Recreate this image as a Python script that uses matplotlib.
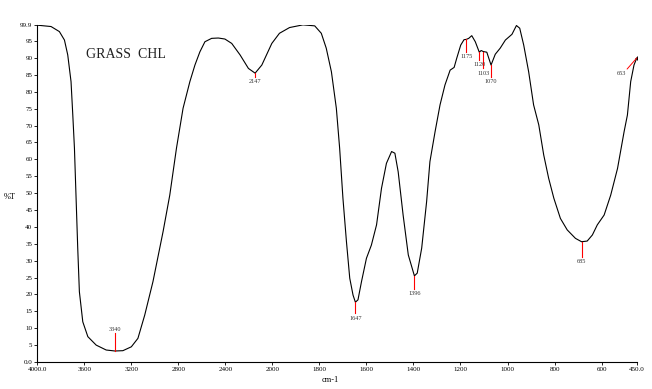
import numpy as np
import matplotlib
matplotlib.use("Agg")
import matplotlib.pyplot as plt

plt.rcParams['font.family'] = ['Liberation Serif', 'DejaVu Serif']

# spectrum: wavenumber (cm-1) and %T
wavenumber = [
    4000, 3883, 3812, 3769, 3741, 3713, 3698, 3684, 3670, 3656, 3642, 3613, 3570, 3499,
    3414, 3340, 3272, 3200, 3144, 3086, 3016, 2930, 2873, 2816, 2760, 2702, 2659, 2617,
    2574, 2517, 2460, 2404, 2346, 2275, 2204, 2147, 2090, 2005, 1970, 1927, 1870, 1820,
    1792, 1771, 1749, 1728, 1714, 1700, 1685, 1671, 1657, 1647, 1636, 1621, 1600, 1579,
    1557, 1536, 1515, 1493, 1479, 1465, 1444, 1422, 1396, 1384, 1365, 1344, 1330, 1308,
    1287, 1266, 1244, 1227, 1216, 1199, 1185, 1175, 1165, 1152, 1137, 1120, 1112, 1103,
    1088, 1070, 1052, 1031, 1009, 981, 962, 948, 931, 910, 889, 867, 846, 825, 803, 775,
    746, 711, 685, 661, 639, 618, 589, 561, 532, 504, 490, 476, 462, 450,
]
transmittance = [
    99.7, 99.3, 97.8, 95.3, 90.9, 83.0, 73.1, 63.3, 48.5, 33.7, 20.8, 11.9, 7.5, 5.0,
    3.55, 3.26, 3.35, 4.5, 7.0, 13.9, 23.8, 38.6, 49.4, 63.3, 75.1, 83.0, 87.9, 91.8,
    94.8, 95.8, 95.9, 95.6, 94.3, 90.9, 86.9, 85.5, 87.9, 94.3, 97.3, 99.0, 99.8, 99.5,
    97.3, 92.9, 85.9, 75.1, 63.3, 48.5, 35.6, 24.8, 19.8, 17.7, 18.4, 23.8, 30.7, 34.6,
    40.6, 51.4, 58.8, 62.3, 61.8, 56.3, 43.5, 31.7, 25.5, 26.3, 33.7, 47.5, 59.3, 68.2,
    76.1, 82.0, 86.4, 87.2, 89.9, 93.8, 95.4, 95.5, 95.8, 96.6, 94.8, 91.7, 92.2, 91.9,
    91.7, 87.9, 91.1, 92.9, 95.3, 97.0, 99.6, 98.8, 93.8, 85.9, 76.1, 70.2, 61.3, 54.4,
    48.5, 42.5, 39.1, 36.6, 35.6, 35.8, 37.6, 40.6, 43.5, 49.4, 57.3, 68.2, 73.1, 83.0,
    87.9, 90.0,
]

# picked peaks
peak_wn = [3340, 2147, 1647, 1396, 1175, 1120, 1103, 1070, 685]
peak_label = ['3340', '2147', '1647', '1396', '1175', '1120', '1103', '1070', '685']
peak_line_len = [-5.3, 1.1, 3.3, 3.9, 3.6, 2.3, 5.0, 3.4, 4.4]
end_label = '653'

x_ticks = [4000, 3600, 3200, 2800, 2400, 2000, 1800, 1600, 1400, 1200, 1000, 800, 600, 450]
x_tick_labels = ['4000.0', '3600', '3200', '2800', '2400', '2000', '1800', '1600', '1400',
                 '1200', '1000', '800', '600', '450.0']
y_ticks = [0, 5, 10, 15, 20, 25, 30, 35, 40, 45, 50, 55, 60, 65, 70, 75, 80, 85, 90, 95, 99.9]
y_tick_labels = ['0.0'] + [str(v) for v in y_ticks[1:-1]] + ['99.9']


def forward(w):
    # x axis is expanded 2x below 2000 cm-1
    w = np.asarray(w, dtype=float)
    return np.where(w >= 2000, w / 400.0 - 10.0, w / 200.0 - 15.0)


def inverse(t):
    t = np.asarray(t, dtype=float)
    return np.where(t >= -5.0, 400.0 * (t + 10.0), 200.0 * (t + 15.0))


fig = plt.figure(figsize=(6.52, 3.89), dpi=100)
ax = fig.add_axes([0.0572, 0.0694, 0.9195, 0.8676])
ax.set_xscale('function', functions=(forward, inverse))

ax.plot(wavenumber, transmittance, color='black', lw=0.8)
ax.plot(wavenumber[-1], transmittance[-1], marker='+', color='black', ms=2.5, mew=0.7)

for w, lab, ln in zip(peak_wn, peak_label, peak_line_len):
    t = np.interp(w, wavenumber[::-1], transmittance[::-1])
    t_end = t - ln
    ax.plot([w, w], [t, t_end], color='red', lw=0.8)
    if ln < 0:
        ax.text(w, t_end + 0.4, lab, fontsize=4.5, ha='center', va='bottom', color='#333333')
    else:
        ax.text(w, t_end - 0.7, lab, fontsize=4.5, ha='center', va='top', color='#333333')

# last label sits on a short slanted leader at the end of the trace
end_xy = (wavenumber[-1], transmittance[-1])
ax.annotate('', xy=end_xy, xytext=(-7, -8), textcoords='offset points',
            arrowprops=dict(arrowstyle='-', color='red', lw=0.7, shrinkA=0, shrinkB=0))
ax.annotate(end_label, xy=end_xy, xytext=(-7.5, -11), textcoords='offset points',
            fontsize=4.5, ha='right', va='center', color='#333333')

ax.text(0.081, 0.91, 'GRASS  CHL', transform=ax.transAxes, fontsize=10,
        ha='left', va='center', color='#222222')

ax.set_xlim(4000, 450)
ax.set_ylim(0, 99.9)
ax.set_xticks(x_ticks)
ax.set_xticklabels(x_tick_labels)
ax.set_yticks(y_ticks)
ax.set_yticklabels(y_tick_labels)
ax.minorticks_off()
ax.tick_params(axis='both', direction='out', length=2.5, width=0.6, pad=1, labelsize=5)

ax.spines['top'].set_visible(False)
ax.spines['right'].set_visible(False)
ax.spines['left'].set_linewidth(0.8)
ax.spines['bottom'].set_linewidth(0.8)

fig.text(0.006, 1 - 197 / 389, '%T', fontsize=6, ha='left', va='center')
fig.text(330 / 652, 1 - 380 / 389, 'cm-1', fontsize=6, ha='center', va='center')

fig.savefig('out.png', dpi=100)
